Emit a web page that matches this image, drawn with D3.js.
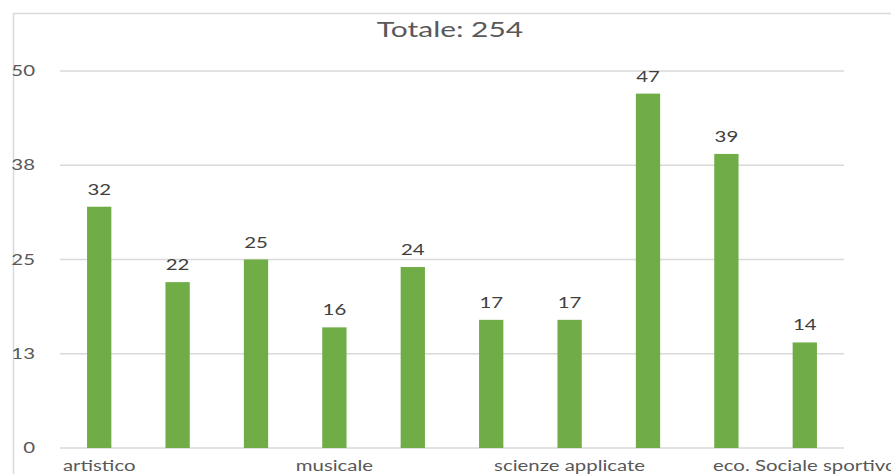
<!DOCTYPE html>
<html>
<head>
<meta charset="utf-8">
<script src="https://cdn.jsdelivr.net/npm/d3@7"></script>
<style>
  body { margin: 0; background: #fff; overflow: hidden; }
  text { font-family: Lato, "Open Sans", sans-serif; }
</style>
</head>
<body>
<div id="chart"></div>
<script>
// data
var categories = ["artistico", "c2", "c3", "musicale", "c5", "c6", "scienze applicate", "c8", "c9", "eco. Sociale sportivo"];
var shownLabels = ["artistico", "", "", "musicale", "", "", "scienze applicate", "", "", "eco. Sociale sportivo"];
var values = [32, 22, 25, 16, 24, 17, 17, 47, 39, 14];
var yTicks = [0, 12.5, 25, 37.5, 50];
var title = "Totale: 254";

var W = 891, H = 474;
var stretch = 1.36; // text in the picture is widened

var svg = d3.select("#chart").append("svg")
    .attr("width", W)
    .attr("height", H);

// chart frame
svg.append("rect")
    .attr("x", 13.5).attr("y", 13.5)
    .attr("width", W + 20).attr("height", H + 20)
    .style("fill", "none")
    .style("stroke", "#d9d9d9")
    .style("stroke-width", "1.5px");

var x = d3.scaleBand()
    .domain(categories)
    .range([60, 844])
    .paddingInner(0.69)
    .paddingOuter(0.345);

var y = d3.scaleLinear()
    .domain([0, 50])
    .range([448, 71]);

var putText = function(tx, ty, str, size, fill, anchor){
    svg.append("text")
        .attr("transform", "translate(" + tx + "," + ty + ") scale(" + stretch + ",1)")
        .attr("text-anchor", anchor)
        .style("font-size", size + "px")
        .style("fill", fill)
        .text(str);
};

// gridlines
svg.append("g").selectAll("line")
    .data(yTicks)
    .enter().append("line")
    .attr("x1", 60).attr("x2", 844)
    .attr("y1", function(d){ return y(d); })
    .attr("y2", function(d){ return y(d); })
    .style("stroke", "#d9d9d9")
    .style("stroke-width", "1.5px");

// y labels
yTicks.forEach(function(t){
    putText(35, y(t) + 5, Math.round(t), 15, "#595959", "end");
});

// bars
svg.append("g").selectAll("rect")
    .data(values)
    .enter().append("rect")
    .attr("x", function(d, i){ return x(categories[i]); })
    .attr("y", function(d){ return y(d); })
    .attr("width", x.bandwidth())
    .attr("height", function(d){ return y(0) - y(d); })
    .style("fill", "#70ad47");

// value labels
values.forEach(function(v, i){
    putText(x(categories[i]) + x.bandwidth() / 2, y(v) - 12, v, 15, "#404040", "middle");
});

// category labels
shownLabels.forEach(function(lab, i){
    if (lab) putText(x(categories[i]) + x.bandwidth() / 2, 471, lab, 15, "#595959", "middle");
});

// title
putText(450, 37, title, 22, "#595959", "middle");
</script>
</body>
</html>
